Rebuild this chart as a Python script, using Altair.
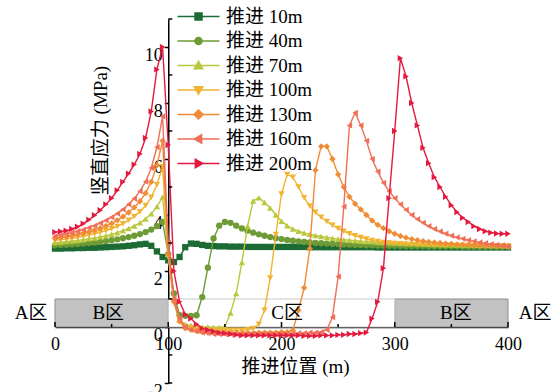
import altair as alt
import pandas as pd

# Face-advance cases and their styling
SERIES = ["推进 10m", "推进 40m", "推进 70m", "推进 100m", "推进 130m", "推进 160m", "推进 200m"]
COLORS = ["#1d6b34", "#6e9b35", "#bac83c", "#f0b431", "#f08c35", "#ef6f57", "#e3193f"]
SHAPES = ["square", "circle", "triangle-up", "triangle-down", "diamond", "triangle-left", "triangle-right"]

# Legend glyphs: a short line segment through the marker
LEGEND_GLYPHS = [
    "M-6,0H6M-1,-1H1V1H-1Z",
    "M-6,0H6M1,0A1,1,0,1,1,-1,0A1,1,0,1,1,1,0Z",
    "M-6,0H6M0,-1.2L1.2,0.9H-1.2Z",
    "M-6,0H6M0,1.2L1.2,-0.9H-1.2Z",
    "M-6,0H6M0,-1.3L1.3,0L0,1.3L-1.3,0Z",
    "M-6,0H6M-1.2,0L0.9,-1.2V1.2Z",
    "M-6,0H6M1.2,0L-0.9,-1.2V1.2Z",
]

# Monitoring positions along the panel (m)
POS = list(range(0, 401, 5))

# Vertical stress (MPa) at each position
S10 = [2.80, 2.80, 2.81, 2.81, 2.82, 2.82, 2.83, 2.83, 2.84, 2.85, 2.86, 2.87, 2.88, 2.90, 2.92, 2.95, 2.97, 2.90, 2.70, 2.50,
       2.38, 2.32, 2.50, 2.85, 2.98, 2.97, 2.93, 2.90, 2.89, 2.88, 2.88, 2.87, 2.87, 2.87, 2.86, 2.86, 2.86, 2.86, 2.86, 2.86,
       2.86, 2.86, 2.86, 2.86, 2.86, 2.85, 2.85, 2.85, 2.85, 2.85, 2.85, 2.85, 2.85, 2.85, 2.85, 2.85, 2.85, 2.84, 2.84, 2.84,
       2.84, 2.84, 2.84, 2.84, 2.84, 2.84, 2.84, 2.84, 2.84, 2.84, 2.84, 2.84, 2.84, 2.84, 2.84, 2.84, 2.84, 2.84, 2.84, 2.84, 2.84]
S40 = [2.92, 2.93, 2.94, 2.95, 2.96, 2.98, 3.00, 3.02, 3.04, 3.07, 3.10, 3.13, 3.17, 3.21, 3.26, 3.32, 3.39, 3.48, 3.60, 3.75,
       2.60, 1.20, 0.42, 0.40, 0.40, 0.42, 1.07, 2.12, 3.16, 3.62, 3.75, 3.72, 3.62, 3.52, 3.44, 3.37, 3.31, 3.26, 3.21, 3.17,
       3.14, 3.11, 3.08, 3.06, 3.04, 3.02, 3.00, 2.99, 2.98, 2.97, 2.96, 2.95, 2.94, 2.93, 2.93, 2.92, 2.92, 2.91, 2.91, 2.90,
       2.90, 2.90, 2.89, 2.89, 2.89, 2.89, 2.88, 2.88, 2.88, 2.88, 2.88, 2.88, 2.87, 2.87, 2.87, 2.87, 2.87, 2.87, 2.87, 2.87, 2.87]
S70 = [3.02, 3.03, 3.05, 3.07, 3.09, 3.12, 3.15, 3.18, 3.22, 3.26, 3.31, 3.37, 3.44, 3.52, 3.61, 3.72, 3.86, 4.04, 4.30, 4.64,
       2.60, 1.00, 0.25, 0.10, 0.05, 0.02, 0.00, 0.00, -0.02, -0.02, 0.00, 0.50, 1.20, 2.30, 3.60, 4.50, 4.62, 4.45, 4.25, 4.00,
       3.78, 3.62, 3.50, 3.42, 3.36, 3.31, 3.27, 3.23, 3.20, 3.17, 3.14, 3.12, 3.10, 3.08, 3.06, 3.05, 3.04, 3.03, 3.02, 3.01,
       3.00, 2.99, 2.98, 2.98, 2.97, 2.96, 2.96, 2.95, 2.95, 2.94, 2.94, 2.93, 2.93, 2.93, 2.92, 2.92, 2.92, 2.91, 2.91, 2.91, 2.90]
S100 = [3.10, 3.12, 3.14, 3.17, 3.20, 3.24, 3.28, 3.33, 3.38, 3.44, 3.51, 3.59, 3.69, 3.81, 3.95, 4.12, 4.34, 4.63, 5.08, 5.72,
        2.50, 0.90, 0.20, 0.00, -0.05, -0.08, -0.10, -0.12, -0.12, -0.12, -0.12, -0.12, -0.12, -0.12, -0.10, -0.05, 0.10, 0.60, 1.75, 3.30,
        4.75, 5.45, 5.35, 5.00, 4.62, 4.32, 4.10, 3.92, 3.77, 3.63, 3.52, 3.42, 3.33, 3.26, 3.20, 3.14, 3.09, 3.05, 3.02, 3.00,
        2.98, 2.97, 2.96, 2.95, 2.94, 2.94, 2.93, 2.93, 2.92, 2.92, 2.92, 2.91, 2.91, 2.91, 2.90, 2.90, 2.90, 2.90, 2.90, 2.89, 2.89]
S130 = [3.16, 3.19, 3.22, 3.26, 3.30, 3.35, 3.40, 3.46, 3.53, 3.61, 3.70, 3.81, 3.94, 4.09, 4.27, 4.49, 4.78, 5.18, 5.78, 6.65,
        2.60, 0.90, 0.20, -0.05, -0.10, -0.15, -0.18, -0.20, -0.20, -0.22, -0.22, -0.22, -0.22, -0.22, -0.22, -0.22, -0.20, -0.20, -0.20, -0.20,
        -0.18, -0.18, -0.12, 0.60, 1.40, 2.80, 5.60, 6.45, 6.45, 6.00, 5.45, 5.00, 4.65, 4.40, 4.20, 4.00, 3.80, 3.65, 3.53, 3.42,
        3.33, 3.25, 3.19, 3.14, 3.10, 3.07, 3.04, 3.02, 3.00, 2.98, 2.97, 2.95, 2.94, 2.93, 2.92, 2.91, 2.90, 2.90, 2.89, 2.89, 2.88]
S160 = [3.24, 3.28, 3.32, 3.37, 3.42, 3.48, 3.55, 3.62, 3.71, 3.81, 3.92, 4.05, 4.20, 4.38, 4.59, 4.85, 5.19, 5.68, 6.42, 7.52,
        3.00, 1.00, 0.30, 0.00, -0.10, -0.15, -0.20, -0.22, -0.25, -0.25, -0.25, -0.25, -0.25, -0.25, -0.25, -0.25, -0.25, -0.25, -0.25, -0.25,
        -0.25, -0.25, -0.25, -0.22, -0.22, -0.20, -0.20, -0.18, -0.10, 0.35, 1.80, 4.30, 7.20, 7.65, 7.20, 6.65, 6.00, 5.55, 5.15, 4.85,
        4.60, 4.38, 4.18, 4.00, 3.85, 3.72, 3.60, 3.50, 3.41, 3.33, 3.26, 3.20, 3.15, 3.10, 3.06, 3.02, 2.99, 2.96, 2.93, 2.91, 2.88]
S200 = [3.39, 3.41, 3.44, 3.50, 3.58, 3.69, 3.83, 3.99, 4.17, 4.38, 4.60, 4.88, 5.18, 5.48, 5.80, 6.18, 6.75, 7.70, 9.20, 10.00,
        6.50, 2.00, 0.90, 0.45, 0.30, 0.10, -0.05, -0.10, -0.15, -0.20, -0.22, -0.25, -0.28, -0.30, -0.30, -0.30, -0.30, -0.30, -0.30, -0.30,
        -0.30, -0.30, -0.30, -0.30, -0.32, -0.32, -0.32, -0.30, -0.30, -0.30, -0.28, -0.28, -0.25, -0.25, -0.22, -0.20, 0.30, 0.90, 2.10, 4.60,
        7.00, 9.60, 8.95, 8.00, 7.20, 6.40, 5.85, 5.35, 5.00, 4.65, 4.35, 4.10, 3.90, 3.75, 3.60, 3.50, 3.42, 3.37, 3.34, 3.33, 3.33]
VALUES = [S10, S40, S70, S100, S130, S160, S200]

# Panel zones along the x axis
ZONE_START = [0, 100, 300]
ZONE_END = [100, 300, 400]
ZONE_KIND = ["B", "C", "B"]
ZONE_LABELS = ["A区", "B区", "C区", "B区", "A区"]
ZONE_LABEL_POS = [-21, 47, 205, 354, 424]

X_TICKS = [0, 100, 200, 300, 400]
X_MINOR = [50, 150, 250, 350]
Y_TICKS = [-2, 0, 2, 4, 6, 8, 10]
Y_MINOR = [-2, -1, 1, 3, 5, 7, 9, 11]

FONT = "Liberation Serif, Noto Sans CJK SC"

rows = []
for name, vals in zip(SERIES, VALUES):
    for p, v in zip(POS, vals):
        rows.append({"pos": p, "stress": v, "series": name})
df = pd.DataFrame(rows)

zones = pd.DataFrame({"start": ZONE_START, "end": ZONE_END, "kind": ZONE_KIND})
zone_text = pd.DataFrame({"label": ZONE_LABELS, "pos": ZONE_LABEL_POS, "stress": [0.5] * len(ZONE_LABELS)})

xs = alt.Scale(domain=[0, 400], nice=False)
ys = alt.Scale(domain=[-2, 11], nice=False)

# Axes cross at (100, 0); every layer carries the same axis definition
x_axis = alt.Axis(
    values=X_TICKS, offset=-56, tickSize=0, labelPadding=8, labelFlush=False,
    labelFont=FONT, labelFontSize=18, labelColor="black",
    domainColor="black", domainWidth=1.5, grid=False,
    title="推进位置 (m)", titleFont=FONT, titleFontSize=19, titleFontWeight="normal",
    titleColor="black", titleX=240, titleY=39, titleBaseline="middle", titleAlign="center",
)
y_axis = alt.Axis(
    values=Y_TICKS, offset=-113.25, tickSize=4, tickColor="black", tickWidth=1.5,
    labelPadding=2, labelOffset=8, labelBaseline="middle", labelExpr="'' + datum.value",
    labelFont=FONT, labelFontSize=18, labelColor="black",
    domainColor="black", domainWidth=1.5, grid=False,
    title="竖直应力 (MPa)", titleFont=FONT, titleFontSize=19, titleFontWeight="normal",
    titleColor="black", titleX=-68, titleY=111, titleAngle=270,
    titleBaseline="middle", titleAlign="center",
)

AX = dict(scale=xs, axis=x_axis)
AY = dict(scale=ys, axis=y_axis)

layers = []

# Pillar / goaf zones drawn as a strip just above the x axis
layers.append(
    alt.Chart(zones).transform_filter(alt.datum.kind == "B").mark_rect(
        fill="#c2c2c2", stroke="#8c8c8c", strokeWidth=1
    ).encode(
        x=alt.X("start:Q", **AX), x2="end:Q",
        y=alt.datum(0, **AY), y2=alt.datum(1),
    )
)
layers.append(
    alt.Chart(zones).transform_filter(alt.datum.kind == "C").mark_rect(
        fill="white", stroke="#c8c8c8", strokeWidth=1
    ).encode(
        x=alt.X("start:Q", **AX), x2="end:Q",
        y=alt.datum(0, **AY), y2=alt.datum(1),
    )
)

# One line + marker layer per advance case, later cases on top
for name, col, shp in zip(SERIES, COLORS, SHAPES):
    sub = alt.Chart(df).transform_filter(alt.datum.series == name)
    layers.append(
        sub.mark_line(color=col, strokeWidth=1.4).encode(
            x=alt.X("pos:Q", **AX), y=alt.Y("stress:Q", **AY), order="pos:Q"
        )
    )
    layers.append(
        sub.mark_point(shape=shp, filled=True, fill=col, opacity=1, size=40, strokeWidth=0).encode(
            x=alt.X("pos:Q", **AX), y=alt.Y("stress:Q", **AY)
        )
    )

# Legend: an empty layer carrying the fill/stroke/shape scales
leg = dict(
    orient="none", legendX=134, legendY=-12, title=None, padding=0,
    labelFont=FONT, labelFontSize=19, labelColor="black", labelOffset=18,
    symbolSize=49, symbolStrokeWidth=1.5, rowPadding=4.5,
)
layers.append(
    alt.Chart(df).transform_filter("false").mark_point(filled=True, opacity=1).encode(
        x=alt.X("pos:Q", **AX),
        y=alt.Y("stress:Q", **AY),
        fill=alt.Fill("series:N", scale=alt.Scale(domain=SERIES, range=COLORS), legend=alt.Legend(**leg)),
        stroke=alt.Stroke("series:N", scale=alt.Scale(domain=SERIES, range=COLORS), legend=alt.Legend(**leg)),
        shape=alt.Shape("series:N", scale=alt.Scale(domain=SERIES, range=LEGEND_GLYPHS), legend=alt.Legend(**leg)),
    )
)

# Inward tick marks on both axes
layers.append(
    alt.Chart(pd.DataFrame({"pos": X_TICKS})).mark_rule(color="black", strokeWidth=1.5, y2Offset=-5).encode(
        x=alt.X("pos:Q", **AX), y=alt.datum(0, **AY), y2=alt.datum(0),
    )
)
layers.append(
    alt.Chart(pd.DataFrame({"pos": X_MINOR})).mark_rule(color="black", strokeWidth=1.5, y2Offset=-3).encode(
        x=alt.X("pos:Q", **AX), y=alt.datum(0, **AY), y2=alt.datum(0),
    )
)
layers.append(
    alt.Chart(pd.DataFrame({"stress": Y_MINOR})).mark_rule(color="black", strokeWidth=1.5, x2Offset=4).encode(
        y=alt.Y("stress:Q", **AY), x=alt.datum(100, **AX), x2=alt.datum(100),
    )
)

# Zone names
layers.append(
    alt.Chart(zone_text).mark_text(font=FONT, fontSize=19, color="black", baseline="middle").encode(
        x=alt.X("pos:Q", **AX), y=alt.Y("stress:Q", **AY), text="label:N",
    )
)

chart = alt.layer(*layers).properties(
    width=453, height=364,
    autosize=alt.AutoSizeParams(type="none"),
    padding={"left": 55, "top": 19, "right": 52, "bottom": 9},
    background="white",
).configure_view(stroke=None)

chart.save("out.html", embed_options={"renderer": "svg", "actions": False})
